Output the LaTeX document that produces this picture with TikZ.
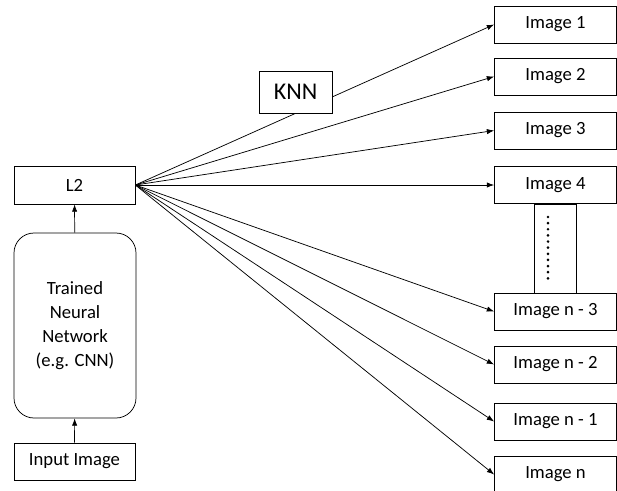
\documentclass[tikz,border=0pt]{standalone}
\usepackage{fontspec}
\setmainfont{Carlito}
\usetikzlibrary{arrows.meta}
\tikzset{every picture/.style={line width=0.55pt}}
\tikzset{imgbox/.style={draw, fill=white, inner sep=0pt, minimum width=91.5pt, minimum height=27.75pt, font=\fontsize{14}{16}\selectfont},
         arr/.style={-{Latex[length=5.5pt,width=4pt]}}}

\begin{document}
\begin{tikzpicture}[x=0.75pt,y=0.75pt,yscale=-1,xscale=1]
            \useasboundingbox (0,0) rectangle (617,490);
            \node (l2) at (74.5,185) [imgbox, minimum width=90.75pt, minimum height=28.5pt] {L2};
            \node (trained) at (75,325.5) [imgbox, rounded corners=15pt, minimum height=138.75pt, align=center, font=\fontsize{14}{18}\selectfont] {Trained\\Neural\\Network\\(e.g. CNN)};
            \node (input) at (74.5,461.5) [imgbox, minimum width=90.75pt] {Input Image};
            \node (img1) at (555.5,24.5) [imgbox] {Image 1};
            \node (img2) at (555.5,76.5) [imgbox] {Image 2};
            \node (img3) at (555.5,130.5) [imgbox] {Image 3};
            \node (img4) at (555.5,185) [imgbox] {Image 4};
            \draw ([xshift=-16pt]img4.south) rectangle ([xshift=16pt]555.5,294);
            \node (imgn3) at (555.5,311.5) [imgbox] {Image n - 3};
            \node (imgn2) at (555.5,364.5) [imgbox] {Image n - 2};
            \node (imgn1) at (555.5,421.5) [imgbox] {Image n - 1};
            \node (imgn) at (555.5,474.5) [imgbox] {Image n};
            \draw [line width=2.2pt, line cap=round, dash pattern={on 0pt off 4.6pt}]  (548,217) -- (548,283) ;
            \draw [arr]  (input) -- (trained) ;
            \draw [arr]  (trained) -- (l2) ;
            \draw [arr]  (l2.east) -- (img1.west) ;
            \draw [arr]  (l2.east) -- (img2.west) ;
            \draw [arr]  (l2.east) -- (img3.west) ;
            \draw [arr]  (l2.east) -- (img4.west) ;
            \draw [arr]  (l2.east) -- (imgn3.west) ;
            \draw [arr]  (l2.east) -- (imgn2.west) ;
            \draw [arr]  (l2.east) -- (imgn1.west) ;
            \draw [arr]  (l2.east) -- (imgn.west) ;
            \node (knn) at (295.5,92) [imgbox, minimum width=54.75pt, minimum height=31.5pt, font=\fontsize{18}{20}\selectfont] {KNN};
\end{tikzpicture}
\end{document}
